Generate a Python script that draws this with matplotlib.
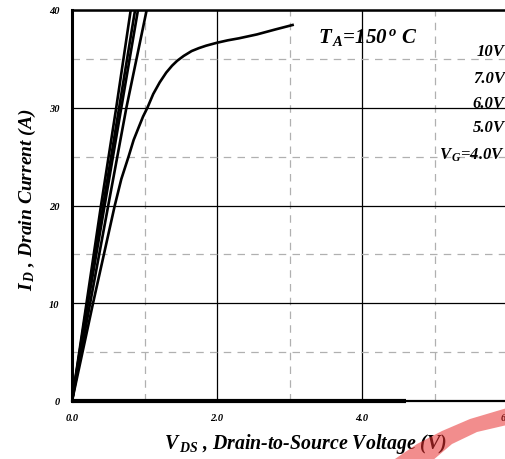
import matplotlib
matplotlib.use("Agg")
import matplotlib.pyplot as plt
from matplotlib.patches import Polygon
import numpy as np

# Data
vds_10v = [0, 0.20, 0.40, 0.61, 0.81]
id_10v = [0, 10, 20, 30, 40]
vds_7v = [0, 0.21, 0.43, 0.65, 0.87]
id_7v = [0, 10, 20, 30, 40]
vds_6v = [0, 0.22, 0.45, 0.68, 0.91]
id_6v = [0, 10, 20, 30, 40]
vds_5v = [0, 0.25, 0.50, 0.75, 1.03]
id_5v = [0, 10, 20, 30, 40]
vds_4v = [0, 0.29, 0.59, 0.68, 0.78, 0.85, 0.92, 0.98, 1.04, 1.12, 1.21, 1.30, 1.38, 1.45, 1.54,
          1.65, 1.75, 1.85, 2.0, 2.15, 2.3, 2.55, 2.8, 3.06]
id_4v = [0, 10, 20, 22.7, 25, 26.7, 28, 29.1, 30, 31.4, 32.6, 33.6, 34.3, 34.8, 35.3,
         35.8, 36.1, 36.35, 36.65, 36.9, 37.1, 37.5, 38.0, 38.5]

xticks = [0, 2, 4, 6]
xtick_labels = ["0.0", "2.0", "4.0", "6.0"]
yticks = [0, 10, 20, 30, 40]
ytick_labels = ["0", "10", "20", "30", "40"]
vg_labels = ["10V", "7.0V", "6.0V", "5.0V", r"$\mathit{V}_{\,G}$=4.0V"]

plt.rcParams['font.family'] = ['Liberation Serif', 'DejaVu Serif']
plt.rcParams['mathtext.fontset'] = 'custom'
plt.rcParams['mathtext.rm'] = 'Liberation Serif:bold:italic'
plt.rcParams['mathtext.it'] = 'Liberation Serif:bold:italic'
plt.rcParams['mathtext.bf'] = 'Liberation Serif:bold:italic'

fig = plt.figure(figsize=(5.05, 4.60), dpi=100)
ax = fig.add_axes([72/505, 1-402/460, (507-72)/505, (402-11)/460])
ax.set_xlim(0, 6)
ax.set_ylim(0, 40)

# grids
ax.set_xticks([1, 3, 5], minor=True)
ax.set_yticks([5, 15, 25, 35], minor=True)
ax.grid(which='major', color='black', linewidth=0.9, linestyle='-')
ax.grid(which='minor', color='#b0b0b0', linewidth=0.9, linestyle=(0, (6, 5)))
ax.set_axisbelow(True)

for xs, ys in [(vds_10v, id_10v), (vds_7v, id_7v), (vds_6v, id_6v), (vds_5v, id_5v), (vds_4v, id_4v)]:
    ax.plot(xs, ys, color='black', linewidth=1.9, solid_capstyle='butt',
            solid_joinstyle='round', clip_on=True, zorder=3)

ax.set_xticks(xticks)
ax.set_xticklabels(xtick_labels)
ax.set_yticks(yticks)
ax.set_yticklabels(ytick_labels)
ax.tick_params(which='both', length=0, labelsize=7.5, pad=9)
for lab in ax.get_xticklabels() + ax.get_yticklabels():
    lab.set_fontweight('bold')
    lab.set_fontstyle('italic')

ax.spines['left'].set_linewidth(2.2)
ax.spines['bottom'].set_linewidth(1.6)
ax.spines['top'].set_linewidth(1.8)
ax.spines['right'].set_visible(False)
# thicker bottom segment as in reference
ax.plot([0, 4.6], [0, 0], color='black', linewidth=3.0, clip_on=False, zorder=4,
        solid_capstyle='butt')

ax.text(4.08, 37.3, r"$\mathit{T}_{\,A}$=150$^{\,o}$ C", fontsize=15, fontweight='bold',
        fontstyle='italic', ha='center', va='center')
ylabs = [35.8, 33.0, 30.5, 28.0, 25.2]
for txt, yy in zip(vg_labels, ylabs):
    ax.text(5.97, yy, txt, fontsize=12, fontweight='bold', fontstyle='italic',
            ha='right', va='center')

fig.text(306/505, 1-444/460, r"$\mathit{V}_{\,DS}$ , Drain-to-Source Voltage (V)", fontsize=14.3,
         fontweight='bold', fontstyle='italic', ha='center', va='center', zorder=1)
fig.text(27/505, 1-200/460, r"$\mathit{I}_{\,D}$ , Drain Current (A)", fontsize=14,
         fontweight='bold', fontstyle='italic', ha='center', va='center', rotation=90)

# pink watermark swoosh (figure pixel coordinates), semi-transparent over the text
swoosh = np.array([[392, 462], [417, 445], [442, 432], [470, 420], [507, 409],
                   [507, 426], [477, 433], [452, 445], [432, 462]], dtype=float)
swoosh[:, 1] = 460 - swoosh[:, 1]
fig.patches.append(Polygon(swoosh / [505, 460], closed=True, transform=fig.transFigure,
                           facecolor='#e83030', edgecolor='none', alpha=0.55, zorder=10))
fig.savefig("out.png", dpi=100)
